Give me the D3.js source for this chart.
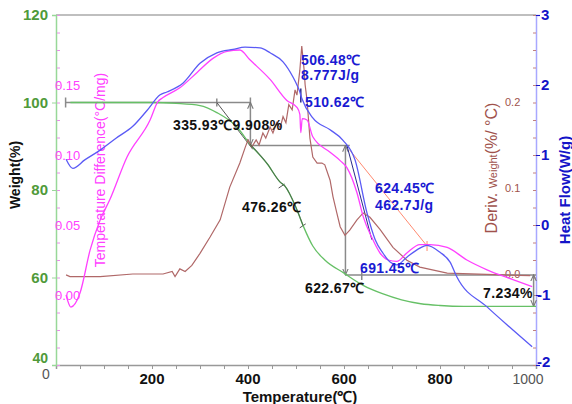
<!DOCTYPE html>
<html>
<head>
<meta charset="utf-8">
<script src="https://cdn.jsdelivr.net/npm/d3@7"></script>
<style>
  html,body{margin:0;padding:0;background:#fff;}
  svg{display:block;}
  text{font-family:"Liberation Sans",Arial,sans-serif;}
</style>
</head>
<body>
<svg id="chart" width="572" height="404"></svg>
<script>
// ---------------- DATA ----------------
const xTicks = [0, 200, 400, 600, 800, 1000];
const weightTicks = [40, 60, 80, 100, 120];
const tdTicks = [0.00, 0.05, 0.10, 0.15];
const dwTicks = [0.0, 0.1, 0.2];
const hfTicks = [3, 2, 1, 0, -1, -2];

// Weight (%) vs temperature
const weightT = [30, 100, 200, 250, 300, 335, 377, 404, 440, 467, 477, 500, 515, 535, 560, 600, 640, 680, 720, 760, 800, 850, 1000];
const weight  = [100, 100, 100, 99.8, 99.3, 97.7, 94.4, 90.5, 86, 81.8, 80.9, 76, 71.8, 67.2, 64, 61, 58.2, 56.3, 54.9, 54, 53.6, 53.4, 53.4];

// Heat flow (W/g)
const hfT = [21, 35, 60, 92, 125, 160, 190, 217, 231, 265, 300, 335, 369, 394, 425, 446, 473, 494, 502, 507, 512, 535, 571, 598, 623, 648, 665, 681, 696, 710, 731, 758, 773, 800, 821, 835, 898, 952, 992];
const heatFlow = [0.94, 0.81, 0.93, 1.07, 1.24, 1.41, 1.64, 1.86, 1.90, 2.03, 2.31, 2.46, 2.51, 2.54, 2.53, 2.46, 2.33, 2.11, 2.0, 1.92, 1.81, 1.53, 1.36, 1.21, 0.93, 0.17, -0.21, -0.40, -0.53, -0.57, -0.46, -0.33, -0.29, -0.39, -0.53, -0.74, -1.17, -1.5, -1.74];

// Temperature difference (°C/mg)
const tdT = [21, 31, 50, 71, 92, 112, 148, 196, 212, 223, 258, 294, 327, 356, 383, 404, 446, 481, 502, 508, 510, 513, 523, 535, 571, 592, 606, 627, 640, 658, 675, 692, 710, 731, 758, 779, 815, 856, 898, 952, 992];
const tempDiff = [0.0, -0.0086, 0.0014, 0.032, 0.0536, 0.068, 0.0986, 0.125, 0.138, 0.141, 0.148, 0.159, 0.169, 0.174, 0.175, 0.168, 0.154, 0.139, 0.134, 0.129, 0.116, 0.126, 0.125, 0.113, 0.102, 0.096, 0.091, 0.073, 0.056, 0.041, 0.030, 0.025, 0.024, 0.030, 0.036, 0.036, 0.034, 0.025, 0.018, 0.011, 0.006];

// Deriv. weight (%/°C)
const dwT = [21, 29, 92, 160, 223, 242, 248, 258, 269, 283, 294, 300, 321, 342, 362, 383, 394, 400, 408, 417, 423, 431, 437, 446, 452, 460, 467, 473, 479, 485, 492, 498, 502, 508, 512, 517, 519, 523, 529, 535, 544, 554, 560, 571, 577, 585, 592, 602, 612, 627, 640, 654, 675, 702, 731, 758, 815, 988];
const derivW = [-0.001, -0.003, -0.003, 0, 0, 0.003, -0.003, 0.006, 0.003, 0.010, 0.019, 0.024, 0.043, 0.063, 0.101, 0.129, 0.147, 0.156, 0.148, 0.156, 0.150, 0.164, 0.158, 0.171, 0.164, 0.176, 0.170, 0.183, 0.176, 0.197, 0.191, 0.214, 0.208, 0.237, 0.265, 0.237, 0.220, 0.202, 0.158, 0.136, 0.129, 0.129, 0.127, 0.109, 0.090, 0.071, 0.055, 0.045, 0.051, 0.063, 0.071, 0.066, 0.052, 0.031, 0.016, 0.008, 0.001, -0.002];

// Annotation labels
const annoLabels = ["335.93\u21039.908%", "476.26\u2103", "622.67\u2103", "7.234%",
                    "506.48\u2103", "8.777J/g", "510.62\u2103", "624.45\u2103", "462.7J/g", "691.45\u2103"];

// ---------------- SCALES ----------------
const svg = d3.select("#chart");
const x = d3.scaleLinear([0, 1000], [56, 536]);
const yW = d3.scaleLinear([40, 120], [365, 15]);
const yTD = d3.scaleLinear([-0.05, 0.20], [365, 15]);
const yDW = d3.scaleLinear([0, 0.2], [274, 102]);
const yHF = d3.scaleLinear([-2, 3], [365, 15]);

const C = {
  green: "#66c066", blue: "#5a5af5", magenta: "#ff40ff", brown: "#b06868",
  gAxis: "#98d898", bAxis: "#a8a8ff", gLab: "#4f9a3a", bLab: "#1414c8",
  brLab: "#a0524c", annoBlue: "#1a1ad2", gray: "#8a8a8a"
};

svg.append("rect").attr("width", 572).attr("height", 404).attr("fill", "#fff");

// top frame line
svg.append("line").attr("x1", 56).attr("x2", 536).attr("y1", 15).attr("y2", 15)
  .attr("stroke", "#aaa").attr("stroke-width", 1.5);

// ---------------- AXES ----------------
// bottom axis
const xAxisG = svg.append("g").attr("transform", "translate(0,365)")
  .call(d3.axisBottom(x).tickValues(d3.range(0, 1001, 50)).tickSize(4).tickFormat(""));
xAxisG.select(".domain").attr("stroke", "#999").attr("stroke-width", 1.5);
xAxisG.selectAll(".tick line").attr("stroke", "#999");
svg.selectAll(".xlab").data(xTicks).enter().append("text")
  .attr("x", d => d === 0 ? x(d) - 10 : (d === 1000 ? x(d) - 8 : x(d)))
  .attr("y", d => d === 0 ? 379 : 384)
  .attr("text-anchor", "middle")
  .attr("font-size", d => (d === 0 || d === 1000) ? 14 : 15)
  .attr("font-weight", d => (d === 0 || d === 1000) ? "normal" : "bold")
  .attr("fill", d => (d === 0 || d === 1000) ? "#555" : "#111")
  .text(d => d);

// left axis (weight) line + ticks
const yWAxis = svg.append("g").attr("transform", "translate(56,0)")
  .call(d3.axisLeft(yW).tickValues(weightTicks).tickSize(4).tickFormat(""));
yWAxis.select(".domain").attr("stroke", C.gAxis).attr("stroke-width", 1.5);
yWAxis.selectAll(".tick line").attr("stroke", C.gAxis);
svg.selectAll(".wlab").data(weightTicks).enter().append("text")
  .attr("x", 48).attr("y", d => d === 40 ? yW(d) - 7 : yW(d))
  .attr("dy", "0.36em").attr("text-anchor", "end")
  .attr("font-size", d => d === 40 ? 14 : 15).attr("font-weight", "bold").attr("fill", C.gLab)
  .text(d => d);

// temperature difference minor ticks (pink) on left axis
const tdAxis = svg.append("g").attr("transform", "translate(57,0)")
  .call(d3.axisRight(yTD).tickValues(d3.range(-0.05, 0.2001, 0.0125)).tickSize(3).tickFormat(""));
tdAxis.select(".domain").remove();
tdAxis.selectAll(".tick line").attr("stroke", "#e890e8");
svg.selectAll(".tdlab").data(tdTicks).enter().append("text")
  .attr("x", 55).attr("y", d => yTD(d)).attr("dy", "0.36em")
  .attr("font-size", 13).attr("fill", C.magenta)
  .text(d => d.toFixed(2));

// right axis (heat flow)
const hfAxis = svg.append("g").attr("transform", "translate(536,0)")
  .call(d3.axisRight(yHF).tickValues(hfTicks).tickSize(4).tickFormat(""));
hfAxis.select(".domain").attr("stroke", C.bAxis).attr("stroke-width", 1.5);
hfAxis.selectAll(".tick line").attr("stroke", C.bLab);
const hfMinor = svg.append("g").attr("transform", "translate(536,0)")
  .call(d3.axisLeft(yHF).tickValues(d3.range(-2, 3.001, 0.25)).tickSize(3).tickFormat(""));
hfMinor.select(".domain").remove();
hfMinor.selectAll(".tick line").attr("stroke", "#c08080");
svg.selectAll(".hflab").data(hfTicks).enter().append("text")
  .attr("x", d => d < 0 ? 537 : 541).attr("y", d => d === -2 ? yHF(d) - 3 : yHF(d)).attr("dy", "0.36em")
  .attr("font-size", 15).attr("font-weight", "bold").attr("fill", C.bLab)
  .text(d => d);

// deriv weight labels
svg.selectAll(".dwlab").data(dwTicks).enter().append("text")
  .attr("x", 505).attr("y", d => yDW(d)).attr("dy", "0.36em")
  .attr("font-size", 11).attr("fill", C.brLab)
  .text(d => d.toFixed(1));

// ---------------- AXIS TITLES ----------------
svg.append("text").attr("x", 300).attr("y", 402).attr("text-anchor", "middle")
  .attr("font-size", 15).attr("font-weight", "bold").attr("fill", "#111")
  .text("Temperature(\u2103)");
svg.append("text").attr("transform", "translate(20,175) rotate(-90)")
  .attr("text-anchor", "middle").attr("font-size", 14).attr("font-weight", "bold").attr("fill", "#111")
  .text("Weight(%)");
svg.append("text").attr("transform", "translate(105,170) rotate(-90)")
  .attr("text-anchor", "middle").attr("font-size", 14).attr("fill", C.magenta)
  .text("Temperature Difference(\u00B0C/mg)");
const dwTitle = svg.append("text").attr("transform", "translate(497,168) rotate(-90)")
  .attr("text-anchor", "middle").attr("fill", C.brLab);
dwTitle.append("tspan").attr("font-size", 16).text("Deriv. ");
dwTitle.append("tspan").attr("font-size", 11).text("Weight");
dwTitle.append("tspan").attr("font-size", 16).text("(%/ \u00B0C)");
svg.append("text").attr("transform", "translate(570,190) rotate(-90)")
  .attr("text-anchor", "middle").attr("font-size", 15).attr("font-weight", "bold").attr("fill", C.bLab)
  .text("Heat Flow(W/g)");

// ---------------- ANNOTATION LINES ----------------
const defs = svg.append("defs");
defs.append("marker").attr("id", "arr").attr("viewBox", "0 0 10 10")
  .attr("refX", 9).attr("refY", 5).attr("markerWidth", 7).attr("markerHeight", 7)
  .attr("orient", "auto-start-reverse").attr("markerUnits", "userSpaceOnUse")
  .append("path").attr("d", "M0,1 L9,5 L0,9").attr("fill", "none").attr("stroke", "#777").attr("stroke-width", 1.5);

const ann = svg.append("g").attr("stroke", C.gray).attr("stroke-width", 1.5).attr("fill", "none");
function seg(x1, y1, x2, y2, opts) {
  const l = ann.append("line").attr("x1", x1).attr("y1", y1).attr("x2", x2).attr("y2", y2);
  if (opts && opts.color) l.attr("stroke", opts.color);
  if (opts && opts.w) l.attr("stroke-width", opts.w);
  if (opts && opts.arrows) l.attr("marker-start", "url(#arr)").attr("marker-end", "url(#arr)");
  return l;
}
// first step
seg(x(20), yW(100), x(405), yW(100));
seg(x(20), yW(100) - 5, x(20), yW(100) + 5);
seg(x(335), yW(100) - 4, x(335), yW(100) + 4);
seg(x(405), yW(100) - 5, x(405), yW(100) + 5);
seg(x(405), yW(100), x(405), yW(90.2), {arrows: true});
seg(x(335), yW(100), x(410), yW(89.3), {color: "#555", w: 1});
// second step
seg(x(405), yW(90.2), x(612), yW(90.2));
seg(x(603), yW(90.2), x(603), yW(60.6), {arrows: true});
// third step
seg(x(603), yW(60.6), x(1000), yW(60.6));
seg(x(637), yW(60.6) - 5, x(637), yW(60.6) + 5);
seg(x(995), yW(60.6), x(995), yW(53.4), {arrows: true});
// heat flow integration baseline & tangent
seg(x(612), yHF(1.07), x(773), yHF(-0.30), {color: "#ff8a70", w: 1});
seg(x(773), yHF(-0.30) - 5, x(773), yHF(-0.30) + 5, {color: "#ff8a70", w: 1});
seg(x(606), yHF(1.14), x(658), yHF(-0.21), {color: "#2a2a8a", w: 1});
seg(x(510), yHF(1.95), x(510), yHF(1.75), {color: "#2a2a8a", w: 1.5});

// ---------------- CURVES ----------------
function drawCurve(T, V, ys, color, curve, w) {
  const pts = T.map((t, i) => [t, V[i]]);
  svg.append("path").datum(pts)
    .attr("d", d3.line().x(d => x(d[0])).y(d => ys(d[1])).curve(curve))
    .attr("fill", "none").attr("stroke", color).attr("stroke-width", w || 1.3);
  return pts;
}
const wPts = drawCurve(weightT, weight, yW, C.green, d3.curveMonotoneX, 1.3);
drawCurve(dwT, derivW, yDW, C.brown, d3.curveLinear, 1.2);
drawCurve(tdT, tempDiff, yTD, C.magenta, d3.curveMonotoneX, 1.3);
drawCurve(hfT, heatFlow, yHF, C.blue, d3.curveMonotoneX, 1.3);

// darker overlay on the weight curve around the 476.26 °C inflection
const seg2 = wPts.filter(d => d[0] >= 404 && d[0] <= 515);
svg.append("path").datum(seg2)
  .attr("d", d3.line().x(d => x(d[0])).y(d => yW(d[1])).curve(d3.curveMonotoneX))
  .attr("fill", "none").attr("stroke", "#3f5f3f").attr("stroke-width", 1.1).attr("opacity", 0.75);
[470, 514].forEach(t => {
  const i = weightT.findIndex(v => v >= t);
  const w = weight[i];
  seg(x(t) - 3, yW(w) + 2, x(t) + 3, yW(w) - 2, {color: "#555", w: 1});
});

// ---------------- ANNOTATION TEXT ----------------
const blackLab = [
  {t: annoLabels[0], x: 173, y: 130},
  {t: annoLabels[1], x: 242, y: 212},
  {t: annoLabels[2], x: 305, y: 293},
  {t: annoLabels[3], x: 483, y: 298}
];
const blueLab = [
  {t: annoLabels[4], x: 301, y: 65},
  {t: annoLabels[5], x: 301, y: 80},
  {t: annoLabels[6], x: 305, y: 107},
  {t: annoLabels[7], x: 375, y: 193},
  {t: annoLabels[8], x: 375, y: 210},
  {t: annoLabels[9], x: 360, y: 273}
];
svg.selectAll(".blk").data(blackLab).enter().append("text")
  .attr("x", d => d.x).attr("y", d => d.y).attr("font-size", 14).attr("font-weight", "bold")
  .attr("letter-spacing", 0.4).attr("fill", "#111").text(d => d.t);
svg.selectAll(".blu").data(blueLab).enter().append("text")
  .attr("x", d => d.x).attr("y", d => d.y).attr("font-size", 14).attr("font-weight", "bold")
  .attr("letter-spacing", 0.4).attr("fill", C.annoBlue).text(d => d.t);
</script>
</body>
</html>
